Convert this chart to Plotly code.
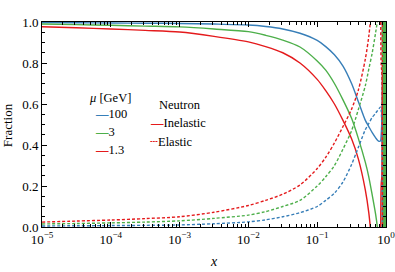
import plotly.graph_objects as go

# x positions (momentum fraction)
x_vals = [1e-5, 3.16e-5, 1e-4, 3.16e-4, 1e-3, 3.16e-3, 0.01, 0.0178, 0.0316, 0.0562,
          0.1, 0.133, 0.178, 0.237, 0.316, 0.398, 0.501, 0.562, 0.631, 0.708,
          0.759, 0.794, 0.832, 0.851, 0.871, 0.891, 0.912, 0.933, 0.955, 0.977, 0.99]

# mu = 1.3 GeV
inel_13 = [0.977, 0.972, 0.966, 0.959, 0.951, 0.93, 0.903, 0.88, 0.85, 0.80,
           0.72, 0.665, 0.60, 0.52, 0.43, 0.33, 0.18, 0.07, -0.1, -0.3,
           -0.4, -0.35, -0.1, 0.21, 0.25, 1.6, 2, 2, 2, 2, 2]
el_13 = [0.024, 0.029, 0.034, 0.041, 0.05, 0.072, 0.105, 0.13, 0.16, 0.205,
         0.285, 0.34, 0.41, 0.49, 0.575, 0.67, 0.82, 0.93, 1.1, 1.3,
         1.4, 1.35, 1.1, 0.79, 0.75, -0.6, -1, -1, -1, -1, -1]

# mu = 3 GeV
inel_3 = [0.99, 0.987, 0.984, 0.98, 0.976, 0.966, 0.953, 0.935, 0.912, 0.878,
          0.81, 0.765, 0.70, 0.62, 0.53, 0.43, 0.315, 0.245, 0.155, 0.06,
          -0.02, -0.2, -0.4, -0.45, -0.3, 0.4, 2, -1, 2, -1, 2]
el_3 = [0.015, 0.017, 0.02, 0.024, 0.03, 0.042, 0.058, 0.075, 0.10, 0.13,
        0.20, 0.245, 0.30, 0.38, 0.47, 0.575, 0.69, 0.77, 0.85, 0.95,
        1.02, 1.2, 1.4, 1.45, 1.3, 0.6, -1, 2, -1, 2, -1]

# mu = 100 GeV
inel_100 = [0.997, 0.996, 0.995, 0.994, 0.993, 0.99, 0.985, 0.978, 0.966, 0.945,
            0.91, 0.88, 0.84, 0.785, 0.70, 0.61, 0.52, 0.49, 0.46, 0.435,
            0.422, 0.418, 0.42, 0.45, 0.53, 0.8, 2, 2, 2, 2, 2]
el_100 = [0.005, 0.006, 0.007, 0.008, 0.01, 0.016, 0.025, 0.035, 0.05, 0.07,
          0.10, 0.13, 0.165, 0.22, 0.305, 0.39, 0.475, 0.505, 0.535, 0.555,
          0.57, 0.578, 0.585, 0.57, 0.45, -0.5, -1, -1, -1, -1, -1]

x_tickvals = [1e-5, 1e-4, 1e-3, 1e-2, 1e-1, 1]
x_ticktext = ["10<sup>−5</sup>", "10<sup>−4</sup>", "10<sup>−3</sup>",
              "10<sup>−2</sup>", "10<sup>−1</sup>", "10<sup>0</sup>"]
y_tickvals = [0, 0.2, 0.4, 0.6, 0.8, 1.0]
y_ticktext = ["0.0", "0.2", "0.4", "0.6", "0.8", "1.0"]

BLUE = "#377eb8"
GREEN = "#4daf4a"
RED = "#e41a1c"
FONT = "Liberation Serif"

fig = go.Figure()
series = [
    (inel_100, BLUE, "solid"), (inel_3, GREEN, "solid"), (inel_13, RED, "solid"),
    (el_100, BLUE, "3px,2px"), (el_3, GREEN, "3px,2px"), (el_13, RED, "3px,2px"),
]
for ys, col, dash in series:
    fig.add_trace(go.Scatter(x=x_vals, y=ys, mode="lines",
                             line=dict(color=col, width=1.4, dash=dash, shape="spline", smoothing=0.8),
                             showlegend=False, hoverinfo="skip"))

axis_common = dict(showline=True, linecolor="black", linewidth=1, mirror="ticks",
                   ticks="inside", ticklen=5, tickcolor="black", showgrid=False, zeroline=False,
                   ticklabeloverflow="allow", automargin=False,
                   tickfont=dict(family=FONT, size=13, color="black"))

fig.update_xaxes(type="log", range=[-5, 0], tickvals=x_tickvals, ticktext=x_ticktext,
                 minor=dict(ticks="inside", ticklen=3, tickcolor="black", dtick="D1", showgrid=False),
                 **axis_common)
fig.update_yaxes(range=[0, 1.0], tickvals=y_tickvals, ticktext=y_ticktext,
                 minor=dict(ticks="inside", ticklen=3, tickcolor="black", dtick=0.05, showgrid=False),
                 **axis_common)

def px_to_paper(px, py):
    return (px - 41.7) / (386 - 41.7), (227.3 - py) / 205.3

# axis titles
xp, yp = px_to_paper(214, 262)
fig.add_annotation(text="<i>x</i>", x=xp, y=yp, xref="paper", yref="paper",
                   xanchor="center", yanchor="middle", showarrow=False,
                   font=dict(family=FONT, size=14, color="black"))
xp, yp = px_to_paper(8, 125)
fig.add_annotation(text="Fraction", x=xp, y=yp, xref="paper", yref="paper", textangle=-90,
                   xanchor="center", yanchor="middle", showarrow=False,
                   font=dict(family=FONT, size=13, color="black"))

legend_items = [
    ("<i>μ</i> [GeV]", 87, 98),
    (f"<span style='color:{BLUE}'><b>—</b></span>100", 93, 114),
    (f"<span style='color:{GREEN}'><b>—</b></span>3", 93, 132),
    (f"<span style='color:{RED}'><b>—</b></span>1.3", 93, 150),
    ("Neutron", 157, 105),
    (f"<span style='color:{RED}'><b>—</b></span>Inelastic", 148, 123),
    (f"<span style='color:{RED}'>┄</span>Elastic", 148, 142),
]
for txt, px, py in legend_items:
    xp, yp = px_to_paper(px, py)
    fig.add_annotation(text=txt, x=xp, y=yp, xref="paper", yref="paper",
                       xanchor="left", yanchor="middle", showarrow=False,
                       font=dict(family=FONT, size=12.5, color="black"))

fig.update_layout(width=395, height=272, margin=dict(l=42, r=9, t=22, b=45),
                  paper_bgcolor="white", plot_bgcolor="white")

fig.write_html("out.html", config={"displayModeBar": False},
               post_script="document.body.style.margin='0';document.body.style.padding='0';")
